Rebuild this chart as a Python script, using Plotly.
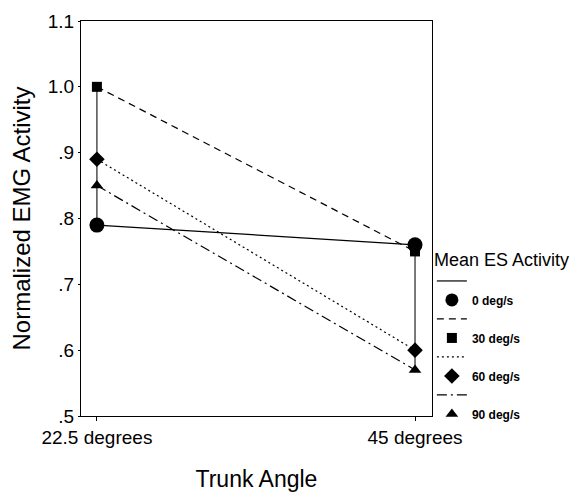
import plotly.graph_objects as go

categories = ["22.5 degrees", "45 degrees"]
series_names = ["0 deg/s", "30 deg/s", "60 deg/s", "90 deg/s"]
vals_0 = [0.79, 0.76]
vals_30 = [1.00, 0.75]
vals_60 = [0.89, 0.60]
vals_90 = [0.85, 0.57]
y_tickvals = [0.5, 0.6, 0.7, 0.8, 0.9, 1.0, 1.1]
y_ticktext = [".5", ".6", ".7", ".8", ".9", "1.0", "1.1"]

series = [vals_0, vals_30, vals_60, vals_90]
dashes = ["solid", "7px,5px", "2px,3px", "10px,4px,2px,4px"]
symbols = ["circle", "square", "diamond", "triangle-up"]
sizes = [15, 10, 12, 11]

xpos = list(range(len(categories)))
FONT = "Liberation Sans, Arial, sans-serif"

fig = go.Figure()

# high-low range lines at each category
hx, hy = [], []
for i in xpos:
    col = [s[i] for s in series]
    hx += [i, i, None]
    hy += [min(col), max(col), None]
fig.add_trace(go.Scatter(x=hx, y=hy, mode="lines", line=dict(color="#222", width=1.2),
                         showlegend=False, hoverinfo="skip"))

for name, vals, d in zip(series_names, series, dashes):
    fig.add_trace(go.Scatter(x=xpos, y=vals, mode="lines", name=name,
                             line=dict(color="black", width=1.2, dash=d),
                             showlegend=False))
for name, vals, d, sym, sz in zip(series_names, series, dashes, symbols, sizes):
    fig.add_trace(go.Scatter(x=xpos, y=vals, mode="markers", name=name,
                             marker=dict(color="black", symbol=sym, size=sz),
                             showlegend=False))
    # legend entries: line sample then marker sample
    fig.add_trace(go.Scatter(x=[None], y=[None], mode="lines", name=" ",
                             line=dict(color="black", width=1.2, dash=d), legendgroup=name))
    fig.add_trace(go.Scatter(x=[None], y=[None], mode="markers", name=name,
                             marker=dict(color="black", symbol=sym, size=min(sz, 13)), legendgroup=name))

fig.update_layout(
    width=586, height=492,
    margin=dict(l=81, r=154, t=21, b=76),
    paper_bgcolor="white", plot_bgcolor="white",
    font=dict(family=FONT, color="black"),
    showlegend=True,
    legend=dict(xref="container", yref="container", x=0.737, xanchor="left",
                y=0.506, yanchor="top",
                title=dict(text="Mean ES Activity", font=dict(size=18, weight="normal")),
                font=dict(size=12, weight="bold"), traceorder="normal", tracegroupgap=0,
                itemwidth=30, bgcolor="rgba(0,0,0,0)"),
    xaxis=dict(range=[-0.05, 1.053], tickvals=xpos, ticktext=categories, automargin=False,
               showgrid=False, zeroline=False, showline=True, linecolor="black", linewidth=1,
               mirror=True, ticks="outside", ticklen=4, tickcolor="black",
               tickfont=dict(size=19),
               title=dict(text="Trunk Angle", font=dict(size=23), standoff=24)),
    yaxis=dict(range=[0.5, 1.1], tickvals=y_tickvals, ticktext=y_ticktext, automargin=False,
               showgrid=False, zeroline=False, showline=True, linecolor="black", linewidth=1,
               mirror=True, ticks="outside", ticklen=2, tickcolor="black",
               tickfont=dict(size=19),
               title=dict(text="Normalized EMG Activity", font=dict(size=24), standoff=10)),
)

fig.write_html("out.html", config={"displayModeBar": False},
               post_script="document.body.style.margin='0';document.body.style.overflow='hidden';")
